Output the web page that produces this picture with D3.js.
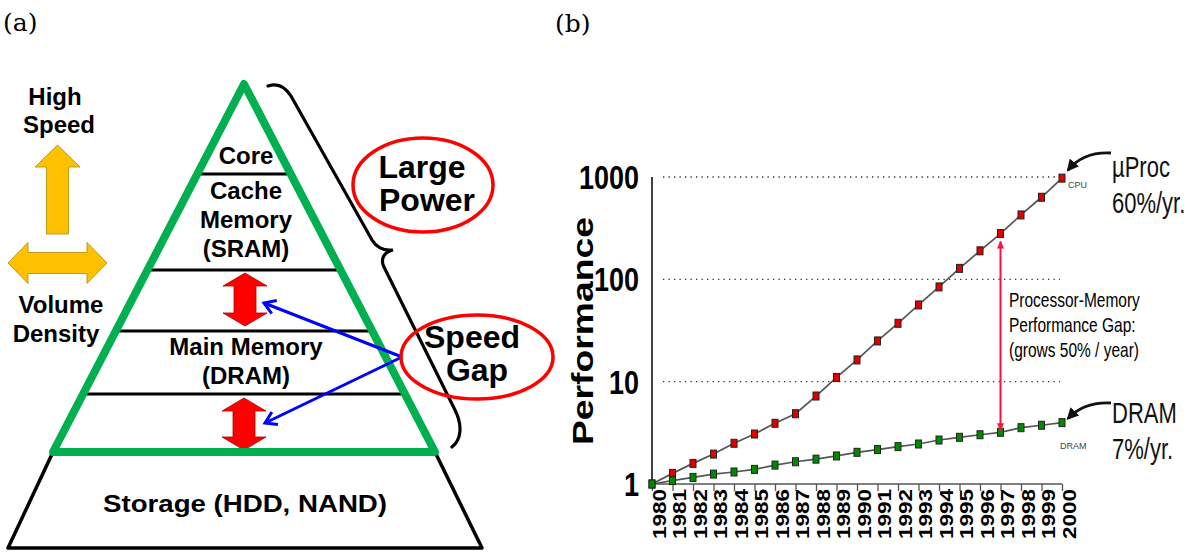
<!DOCTYPE html>
<html>
<head>
<meta charset="utf-8">
<script src="https://cdn.jsdelivr.net/npm/d3@7"></script>
<style>
  body { margin: 0; background: #fff; }
  svg { display: block; }
</style>
</head>
<body>
<div id="chart"></div>
<script>
// ---- data, panel (b): performance relative to 1980 (log scale)
const years = d3.range(1980, 2001);
const cpuPerf = [1, 1.27, 1.59, 1.96, 2.5, 3.08, 3.92, 4.86, 7.24, 11.0, 16.3, 25.0, 37.2, 56.2, 84.3, 128, 190, 280, 426, 634, 975];
const dramPerf = [1, 1.08, 1.16, 1.25, 1.31, 1.39, 1.53, 1.65, 1.75, 1.88, 2.04, 2.17, 2.32, 2.46, 2.69, 2.86, 3.03, 3.2, 3.55, 3.75, 3.98];
const yTicks = [1, 10, 100, 1000];
const gridTicks = [10, 100, 1000];
const gapYear = 1997;
const gapLines = ["Processor-Memory", "Performance Gap:", "(grows 50% / year)"];
const cpuLabel = ["\u00b5Proc", "60%/yr."];
const dramLabel = ["DRAM", "7%/yr."];

// ---- panel (a): memory hierarchy
const layers = [
  {lines: ["Core"], y: 164},
  {lines: ["Cache", "Memory", "(SRAM)"], y: 199},
  {lines: ["Main Memory", "(DRAM)"], y: 355}
];
const dividers = [174, 270, 331, 394];

const W = 1187, H = 552;
const sans = "'Liberation Sans', Arial, sans-serif";

const svg = d3.select("#chart").append("svg")
    .attr("width", W)
    .attr("height", H)
    .attr("viewBox", [0, 0, W, H]);

const defs = svg.append("defs");
defs.append("marker")
    .attr("id", "blueHead")
    .attr("viewBox", "-2 -9 16 18")
    .attr("markerUnits", "userSpaceOnUse")
    .attr("markerWidth", 16).attr("markerHeight", 18)
    .attr("refX", 11).attr("refY", 0)
    .attr("orient", "auto")
  .append("path")
    .attr("d", "M0,-7L11,0L0,7")
    .attr("fill", "none")
    .attr("stroke", "#0000ff")
    .attr("stroke-width", 3);
defs.append("marker")
    .attr("id", "redHead")
    .attr("viewBox", "0 -4 8 8")
    .attr("markerUnits", "userSpaceOnUse")
    .attr("markerWidth", 8).attr("markerHeight", 8)
    .attr("refX", 7).attr("refY", 0)
    .attr("orient", "auto-start-reverse")
  .append("path")
    .attr("d", "M0,-3.5L8,0L0,3.5Z")
    .attr("fill", "#ff1040");
defs.append("marker")
    .attr("id", "blackHead")
    .attr("viewBox", "0 -6 12 12")
    .attr("markerUnits", "userSpaceOnUse")
    .attr("markerWidth", 12).attr("markerHeight", 12)
    .attr("refX", 10).attr("refY", 0)
    .attr("orient", "auto")
  .append("path")
    .attr("d", "M0,-6L12,0L0,6Z")
    .attr("fill", "#111");

// panel tags
svg.append("text").attr("x", 3).attr("y", 31)
    .attr("font-family", "'DejaVu Serif', 'Liberation Serif', serif")
    .attr("font-size", 25).text("(a)");
svg.append("text").attr("x", 555).attr("y", 32)
    .attr("font-family", "'DejaVu Serif', 'Liberation Serif', serif")
    .attr("font-size", 25).text("(b)");

// ================= panel (a) =================
const A = svg.append("g");
const pyr = {cx: 244, top: 84, base: 452, half: 191};
const halfAt = d3.scaleLinear([pyr.top, pyr.base], [0, pyr.half]);

// storage trapezoid
A.append("path")
    .attr("d", `M${pyr.cx - pyr.half},${pyr.base}L8,548L482,548L${pyr.cx + pyr.half},${pyr.base}`)
    .attr("fill", "none").attr("stroke", "#000").attr("stroke-width", 3.5)
    .attr("stroke-linejoin", "round");
A.append("text")
    .attr("x", 245).attr("y", 512)
    .attr("text-anchor", "middle")
    .attr("font-family", sans).attr("font-weight", "bold").attr("font-size", 24)
    .attr("textLength", 284).attr("lengthAdjust", "spacingAndGlyphs")
    .text("Storage (HDD, NAND)");

// layer dividers
A.selectAll("line.div").data(dividers).join("line")
    .attr("class", "div")
    .attr("x1", d => pyr.cx - halfAt(d))
    .attr("x2", d => pyr.cx + halfAt(d))
    .attr("y1", d => d).attr("y2", d => d)
    .attr("stroke", "#000").attr("stroke-width", 3);

// layer labels
layers.forEach(l => {
  A.append("text")
      .attr("text-anchor", "middle")
      .attr("font-family", sans).attr("font-weight", "bold").attr("font-size", 24)
    .selectAll("tspan").data(l.lines).join("tspan")
      .attr("x", pyr.cx + 2)
      .attr("y", (d, i) => l.y + i * 29)
      .text(d => d);
});

// red double arrows (speed gap)
function vArrow(cx, y0, y1, hw, sw, hl) {
  return `M${cx},${y0}L${cx + hw},${y0 + hl}L${cx + sw},${y0 + hl}L${cx + sw},${y1 - hl}L${cx + hw},${y1 - hl}` +
         `L${cx},${y1}L${cx - hw},${y1 - hl}L${cx - sw},${y1 - hl}L${cx - sw},${y0 + hl}L${cx - hw},${y0 + hl}Z`;
}
function hArrow(cy, x0, x1, hh, sh, hl) {
  return `M${x0},${cy}L${x0 + hl},${cy - hh}L${x0 + hl},${cy - sh}L${x1 - hl},${cy - sh}L${x1 - hl},${cy - hh}` +
         `L${x1},${cy}L${x1 - hl},${cy + hh}L${x1 - hl},${cy + sh}L${x0 + hl},${cy + sh}L${x0 + hl},${cy + hh}Z`;
}
A.append("path").attr("d", vArrow(245, 273, 326, 22, 11, 13))
    .attr("fill", "#ff0000").attr("stroke", "#a00").attr("stroke-width", 0.8);
A.append("path").attr("d", vArrow(244, 398, 450, 22, 11, 13))
    .attr("fill", "#ff0000").attr("stroke", "#a00").attr("stroke-width", 0.8);

// green pyramid outline
A.append("path")
    .attr("d", `M${pyr.cx},${pyr.top}L${pyr.cx + pyr.half},${pyr.base}L${pyr.cx - pyr.half},${pyr.base}Z`)
    .attr("fill", "none").attr("stroke", "#00b050").attr("stroke-width", 8)
    .attr("stroke-linejoin", "round");

// blue pointers from "Speed Gap"
A.append("line").attr("x1", 402).attr("y1", 357).attr("x2", 264).attr("y2", 303)
    .attr("stroke", "#0000ff").attr("stroke-width", 3).attr("marker-end", "url(#blueHead)");
A.append("line").attr("x1", 402).attr("y1", 357).attr("x2", 265).attr("y2", 423)
    .attr("stroke", "#0000ff").attr("stroke-width", 3).attr("marker-end", "url(#blueHead)");

// brace
A.append("path")
    .attr("d", "M268,86C279,82 286,88 291,96L372,240C377,248 385,251 393,250C384,252 380,259 384,267L455,410C463,426 461,440 452,447")
    .attr("fill", "none").attr("stroke", "#000").attr("stroke-width", 3.2)
    .attr("stroke-linecap", "round");

// ellipses with labels
[{cx: 423, cy: 185, rx: 70, ry: 47, lines: ["Large", "Power"], tx: [422, 427], ty: 178},
 {cx: 477, cy: 357, rx: 76, ry: 42, lines: ["Speed", "Gap"], tx: [472, 477], ty: 348}].forEach(e => {
  A.append("ellipse").attr("cx", e.cx).attr("cy", e.cy).attr("rx", e.rx).attr("ry", e.ry)
      .attr("fill", "none").attr("stroke", "#ff0000").attr("stroke-width", 3.5);
  A.append("text")
      .attr("text-anchor", "middle")
      .attr("font-family", sans).attr("font-weight", "bold").attr("font-size", 32)
    .selectAll("tspan").data(e.lines).join("tspan")
      .attr("x", (d, i) => e.tx[i])
      .attr("y", (d, i) => e.ty + i * 33)
      .text(d => d);
});

// yellow arrows and axis words
A.append("path").attr("d", "M57.5,145L80,167L68.5,167L68.5,234L46.5,234L46.5,167L35,167Z")
    .attr("fill", "#ffc000").attr("stroke", "#b08a00").attr("stroke-width", 0.8);
A.append("path").attr("d", hArrow(263, 8, 107, 20.5, 10.5, 20))
    .attr("fill", "#ffc000").attr("stroke", "#b08a00").attr("stroke-width", 0.8);
[["High", 55, 105], ["Speed", 59, 133], ["Volume", 61, 313], ["Density", 56, 342]].forEach(([t, x, y]) => {
  A.append("text").attr("x", x).attr("y", y)
      .attr("text-anchor", "middle")
      .attr("font-family", sans).attr("font-weight", "bold").attr("font-size", 24)
      .text(t);
});

// ================= panel (b) =================
const B = svg.append("g");
const x = d3.scaleLinear([1980, 2000], [652, 1062]);
const y = d3.scaleLog([1, 1000], [484, 177]);

// dotted grid
B.append("g").selectAll("line").data(gridTicks).join("line")
    .attr("x1", 663).attr("x2", 1060)
    .attr("y1", d => y(d)).attr("y2", d => y(d))
    .attr("stroke", "#333").attr("stroke-width", 1.3)
    .attr("stroke-dasharray", "1.3,4.2");

// y axis
B.append("line").attr("x1", x(1980)).attr("x2", x(1980)).attr("y1", y(1000)).attr("y2", y(1))
    .attr("stroke", "#000").attr("stroke-width", 1.5);
B.append("g").selectAll("text").data(yTicks).join("text")
    .attr("x", 639)
    .attr("y", d => y(d))
    .attr("dy", "0.36em")
    .attr("text-anchor", "end")
    .attr("font-family", sans).attr("font-weight", "bold").attr("font-size", 33)
    .attr("textLength", d => String(d).length * 15)
    .attr("lengthAdjust", "spacingAndGlyphs")
    .text(d => d);
B.append("text")
    .attr("transform", `translate(593,331) rotate(-90)`)
    .attr("text-anchor", "middle")
    .attr("font-family", sans).attr("font-weight", "bold").attr("font-size", 30)
    .attr("textLength", 228).attr("lengthAdjust", "spacingAndGlyphs")
    .text("Performance");

// x axis
const xAxis = d3.axisBottom(x)
    .tickValues(years)
    .tickSize(7)
    .tickFormat(d3.format("d"));
B.append("g")
    .attr("transform", `translate(0,${y(1)})`)
    .call(xAxis)
    .call(g => g.select(".domain").attr("stroke", "#555").attr("stroke-width", 1.6).attr("d", `M${x(1980)},0H${x(2000)}`))
    .call(g => g.selectAll(".tick line").attr("stroke", "#555").attr("stroke-width", 1.3))
    .call(g => g.selectAll(".tick text")
        .attr("transform", "translate(7,5) rotate(-90)")
        .attr("x", 0).attr("y", 0)
        .attr("dy", "0.36em")
        .attr("text-anchor", "end")
        .attr("fill", "#000")
        .attr("font-family", sans).attr("font-weight", "bold").attr("font-size", 18)
        .attr("textLength", 50).attr("lengthAdjust", "spacingAndGlyphs"));

// series lines and markers
const line = d3.line().x((d, i) => x(years[i])).y(d => y(d));
[[cpuPerf, "#e00000"], [dramPerf, "#008a00"]].forEach(([vals, col]) => {
  B.append("path").datum(vals)
      .attr("d", line)
      .attr("fill", "none").attr("stroke", "#555").attr("stroke-width", 1.7);
  B.append("g").selectAll("rect").data(vals).join("rect")
      .attr("x", (d, i) => x(years[i]) - 3)
      .attr("y", d => y(d) - 4)
      .attr("width", 6).attr("height", 8)
      .attr("fill", col).attr("stroke", "#222").attr("stroke-width", 1);
});

// performance gap arrow
const gi = years.indexOf(gapYear);
B.append("line")
    .attr("x1", x(gapYear)).attr("x2", x(gapYear))
    .attr("y1", y(cpuPerf[gi]) + 8).attr("y2", y(dramPerf[gi]) - 2)
    .attr("stroke", "#ff1040").attr("stroke-width", 2)
    .attr("marker-start", "url(#redHead)").attr("marker-end", "url(#redHead)");
// text in (b) is vertically stretched in the source figure
B.append("g")
    .attr("transform", "translate(1009,307) scale(1,1.35)")
  .append("text")
    .attr("font-family", sans).attr("font-size", 15.5).attr("fill", "#000")
  .selectAll("tspan").data(gapLines).join("tspan")
    .attr("x", 0)
    .attr("y", (d, i) => i * 25 / 1.35)
    .text(d => d);

// end labels
const last = years.length - 1;
B.append("text").attr("x", x(2000) + 6).attr("y", y(cpuPerf[last]) + 10)
    .attr("font-family", sans).attr("font-size", 9).attr("fill", "#444").text("CPU");
B.append("text").attr("x", x(2000) - 2).attr("y", y(dramPerf[last]) + 26)
    .attr("font-family", sans).attr("font-size", 9).attr("fill", "#444").text("DRAM");

B.append("path").attr("d", `M1111,153C1092,152 1078,158 ${x(2000) + 6},${y(cpuPerf[last]) - 8}`)
    .attr("fill", "none").attr("stroke", "#111").attr("stroke-width", 2.8)
    .attr("marker-end", "url(#blackHead)");
B.append("path").attr("d", `M1111,403C1092,402 1078,408 ${x(2000) + 6},${y(dramPerf[last]) - 4}`)
    .attr("fill", "none").attr("stroke", "#111").attr("stroke-width", 2.8)
    .attr("marker-end", "url(#blackHead)");

[[cpuLabel, 177], [dramLabel, 423]].forEach(([lines, y0]) => {
  B.append("g")
      .attr("transform", `translate(1112,${y0}) scale(1,1.3)`)
    .append("text")
      .attr("font-family", sans).attr("font-size", 22).attr("fill", "#111")
    .selectAll("tspan").data(lines).join("tspan")
      .attr("x", 0)
      .attr("y", (d, i) => i * 36 / 1.3)
      .text(d => d);
});
</script>
</body>
</html>
